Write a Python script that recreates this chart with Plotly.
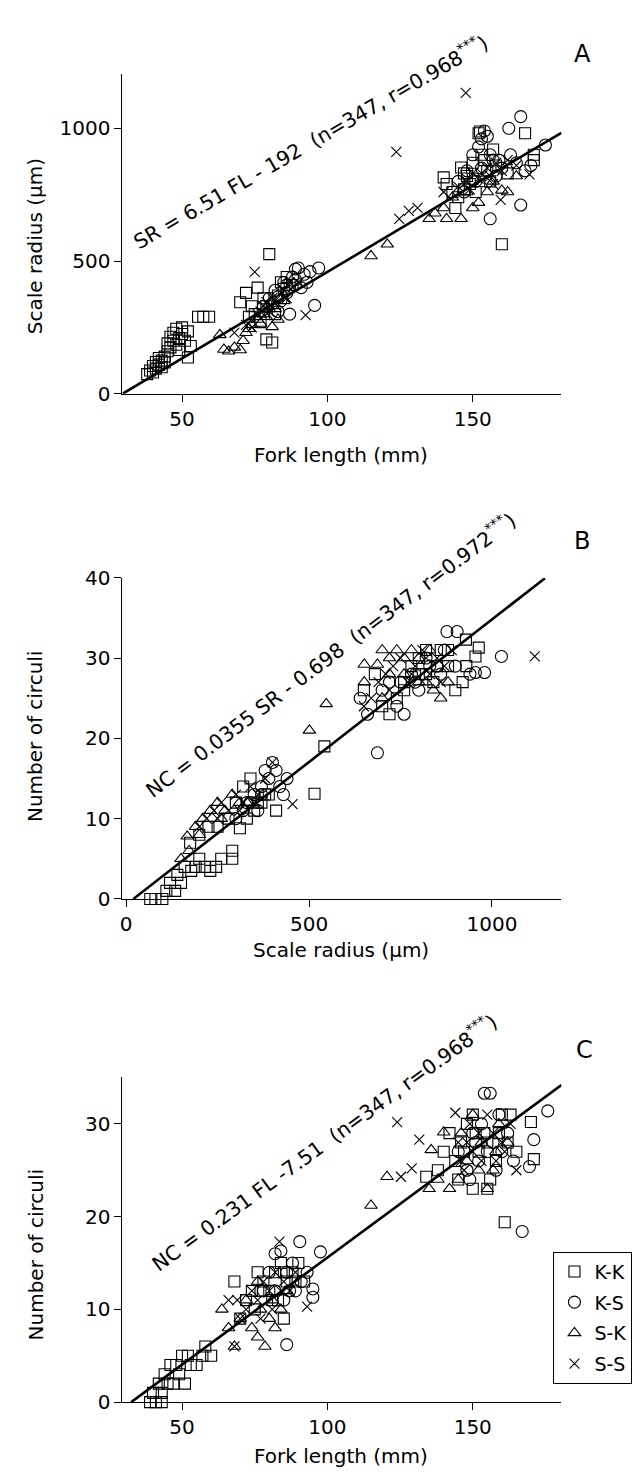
import plotly.graph_objects as go

# ---------------- data ----------------
groups = ["K-K", "K-S", "S-K", "S-S"]

# Panel A: fork length (mm) vs scale radius (um)
a_kk = [(38,74),(39,88),(40,105),(40,80),(41,120),(41,95),(42,110),(42,135),(43,100),(43,125),
        (44,140),(44,118),(45,160),(45,190),(46,175),(46,215),(47,200),(47,230),(48,185),(48,245),
        (49,210),(49,165),(50,225),(50,250),(51,200),(52,235),(52,137),(53,180),(55.5,290),(57.3,290),(59.3,290),
        (70,345),(72,380),(74,330),(76,400),(78,360),(80,526),(81,193),(79,205),(82,300),(84,420),(86,440),
        (88,410),(75,300),(77,270),(73,290),(79,330),(83,370),(85,395),(87,410),
        (140,815),(141,790),(143,760),(145,740),(146,852),(148,820),(149,790),(150,870),(151,760),(152,981),
        (152.5,988),(153,900),(155,840),(156,800),(158,860),(160,563),(162,830),(168,981),(171,900),(171,880),
        (151.4,1207),(147,770),(144,700),(147,830),(150,810),(154,880),(157,920)]
a_ks = [(78,330),(80,360),(82,390),(84,350),(85,420),(86,380),(88,440),(89,470),(90,474),(91,400),
        (92,450),(93,420),(95.6,333),(97,474),(94,460),(87,300),(83,310),(81,340),(83,365),(86,410),(89,430),
        (148,840),(150,900),(152,930),(153,960),(154,990),(155,970),(156,659),(157,880),(158,820),(160,850),
        (162.4,1000),(163,900),(165,870),(166.5,1044),(166.5,711),(168,840),(170,860),(175,937),(145,800),(147,760),
        (151,800),(153,850),(156,900),(159,880)]
a_sk = [(63,222),(64.4,167),(66,160),(68,175),(70,165),(71,200),(72,230),(74,260),(76,280),(78,300),
        (81,252),(80,320),(83,280),(85,350),(73,245),(77,265),(79,290),(82,320),
        (115,519),(120.6,563),(135,659),(137,680),(141,659),(146,659),(150,700),(152,720),(155,760),(160,766),
        (162,760),(165,820),(140,700),(143,740),(148,760),(153,790),(157,800)]
a_ss = [(68,230),(72,260),(75,459),(76,300),(78,330),(80,310),(82,350),(84,380),(86,360),(88,400),
        (92.5,296),(90,420),(74,250),(77,310),(79,345),(81,360),(85,390),(87,420),
        (123.7,911),(124.7,659),(128,689),(131,700),(147.6,1133),(140,760),(145,780),(148,800),(150,830),
        (152,810),(155,850),(158,870),(159.6,730),(162,880),(165,860),(169.5,826),(160,840),(157,790),
        (149,770),(153,830),(156,820)]

# Panel B: scale radius (um) vs number of circuli
b_kk = [(66,0),(80,0),(99,0),(110,1),(120,2),(134,1),(140,3),(150,2),(160,4),(178,3.5),(190,4),(200,5),
        (215,4),(230,3.5),(246,4),(260,5),(175,7),(200,8),(225,9),(290,5),(290,6),(311,8.8),(330,10),
        (350,11),(370,12),(390,13),(410,11),(300,12),(320,14),(340,15),(515,13.1),(542,19),
        (250,9),(280,10),(360,12),(380,13),
        (700,24),(720,23),(740,25),(760,27),(780,29),(800,30),(820,28),(840,27),(860,31),(880,29),(900,26),
        (920,27),(929,32.3),(955,30.2),(964,31.3),(930,29),(1192,30.2),(650,26),(680,28),
        (760,26),(800,28),(850,29),(880,31),(820,31)]
b_ks = [(330,12),(350,13),(370,14),(380,16),(390,15),(400,17),(410,16),(420,14),(430,13),(440,15),
        (360,11),(320,11),(300,10),(340,12),(370,13),
        (640,25),(660,23),(687,18.2),(700,26),(720,27),(740,24),(760,23),(780,28),(800,26),(820,30),
        (850,29),(870,31),(877,33.3),(905,33.3),(955,28.2),(980,28.2),(1026,30.2),(900,29),(940,28),
        (750,27),(790,27),(830,29),(860,28)]
b_sk = [(150,5),(167,7.8),(172,6),(190,9),(210,10),(230,11),(250,12),(270,11),(290,13),(310,12),(200,8),
        (260,10),(330,12),
        (501,21),(547,24.3),
        (651,29.2),(687,29.2),(651,27),(700,31),(720,30),(740,31),(760,28),(780,31),(800,30),(820,27),
        (840,26),(860,25),(880,27),(830,31),(700,25),(720,28),(760,30),(800,27)]
b_ss = [(200,9),(220,10),(240,11),(260,12),(280,11),(300,13),(320,12),(340,14),(360,13),(380,15),
        (400,17),(455,11.8),(250,10),(310,11),(350,12),
        (690,27),(710,28),(730,29),(750,30),(770,27),(790,29),(810,31),(830,28),(850,30),(870,29),
        (890,31),(1117,30.2),(650,24),(670,25),(720,26),(780,28),(820,30),(860,27)]

# Panel C: fork length (mm) vs number of circuli
c_kk = [(39,0),(41,0),(43,0),(40,1),(42,2),(43,1),(44,3),(45,2),(46,4),(47,2),(48,4),(49,3),(50,5),
        (51,2),(52,5),(53,4),(55,4),(57,5),(58,6),(60,5),
        (68,13),(70,9),(72,11),(74,12),(76,14),(78,13),(80,12),(82,14),(84,15),(86,13),(88,14),(90,15),
        (92,13),(85,9),(83,11),(75,10),(77,12),(81,11),(85,14),(89,13),
        (134,24.3),(138,25),(140,27),(142,29),(144,26),(146,28),(148,30),(150,31),(152,27),(154,29),
        (156,24),(158,26),(160,31),(162,28),(165,27),(170,30.2),(171,26.2),(161,19.4),(155,23),(150,23),(145,24),
        (147,27),(151,29),(155,28),(159,29),(163,31)]
c_ks = [(78,12),(80,14),(82,16),(84,16.3),(86,6.2),(88,15),(90.5,17.3),(91,13),(93,14),(95,11.3),
        (95,12.2),(97.6,16.2),(85,11),(87,12),(82,12),(86,14),(89,12),
        (145,27),(148,25),(150,29),(152,26),(154,33.3),(156,33.3),(157,28),(158,25),(160,27),(162,29),
        (164,26),(167,18.4),(169.5,25.4),(171,28.3),(175.8,31.4),(153,30),(149,24),(151,28),(155,27),(159,31)]
c_sk = [(63.7,10),(66,8),(68,6),(70,9),(72,11),(74,8),(76,7),(78.5,6),(80,9),(82,8),(84,10),(76,13),
        (77,10),(81,11),(86,12),
        (115,21.2),(120.5,24.3),(135,23),(135.7,27.2),(140,29.1),(142,23),(145,24),(148,26),(150,31),
        (153,28),(155,23),(157,25),(159,30),(162,28),(138,24),(146,29),(152,25),(158,27)]
c_ss = [(66,11),(68,6),(69,11),(70,9),(72,10),(74,12),(76,11),(78,13),(80,12),(82,14),(83.5,17.3),
        (85,13),(87,12),(89,14),(93,10.3),(77,9),(81,10),(84,12),
        (124,30.2),(125.3,24.3),(129,25.2),(131.6,28.3),(144,31.2),(146,26),(148,28),(150,27),(152,29),
        (155,31),(158,26),(160,28),(163,30),(165,25),(147,25),(145,28),(149,30),(153,26),(157,29),(161,27)]

# regression equations (slope, intercept) and x extent of the drawn line
reg_a = dict(slope=6.51, intercept=-192, x=[29.5, 180.5])
reg_b = dict(slope=0.0355, intercept=-0.698, x=[19.7, 1145])
reg_c = dict(slope=0.231, intercept=-7.51, x=[32.5, 180.5])

eq_a = "SR = 6.51 FL - 192\u00a0\u00a0(n=347, r=0.968<sup>***</sup>)"
eq_b = "NC = 0.0355 SR - 0.698\u00a0\u00a0(n=347, r=0.972<sup>***</sup>)"
eq_c = "NC = 0.231 FL -7.51\u00a0\u00a0(n=347, r=0.968<sup>***</sup>)"

# ---------------- figure ----------------
W, H = 643, 1474
FONT = "DejaVu Sans"
symbols = {"K-K": "square-open", "K-S": "circle-open", "S-K": "triangle-up-open", "S-S": "x-thin-open"}
sizes = {"K-K": 11, "K-S": 12, "S-K": 11, "S-S": 10}

panels = [
    ("x", "y", {"K-K": a_kk, "K-S": a_ks, "S-K": a_sk, "S-S": a_ss}, reg_a),
    ("x2", "y2", {"K-K": b_kk, "K-S": b_ks, "S-K": b_sk, "S-S": b_ss}, reg_b),
    ("x3", "y3", {"K-K": c_kk, "K-S": c_ks, "S-K": c_sk, "S-S": c_ss}, reg_c),
]

fig = go.Figure()
for i, (xa, ya, data, reg) in enumerate(panels):
    for g in groups:
        pts = data[g]
        fig.add_trace(go.Scatter(
            x=[p[0] for p in pts], y=[p[1] for p in pts], mode="markers",
            xaxis=xa, yaxis=ya, name=g, legendgroup=g, showlegend=(i == 2),
            cliponaxis=False,
            marker=dict(symbol=symbols[g], size=sizes[g], color="black",
                        line=dict(color="black", width=1.1)),
        ))
    xs = reg["x"]
    fig.add_trace(go.Scatter(
        x=xs, y=[reg["slope"] * v + reg["intercept"] for v in xs], mode="lines",
        xaxis=xa, yaxis=ya, showlegend=False, hoverinfo="skip",
        line=dict(color="black", width=2.6),
    ))

def px(v):
    return v / W

def py(v):
    return 1 - v / H

axis_common = dict(showline=True, linecolor="black", linewidth=1.2, ticks="outside", ticklen=7,
                   tickwidth=1.2, tickcolor="black", showgrid=False, zeroline=False,
                   tickfont=dict(family=FONT, size=20, color="black"))
xdom = [px(112), px(553)]

fig.update_layout(
    width=W, height=H, autosize=False,
    margin=dict(l=0, r=0, t=0, b=0),
    paper_bgcolor="white", plot_bgcolor="white",
    font=dict(family=FONT, color="black"),
    xaxis=dict(domain=xdom, anchor="y", range=[29.5, 180.5], tickvals=[50, 100, 150], **axis_common),
    yaxis=dict(domain=[py(380), py(55)], anchor="x", range=[0, 1204], tickvals=[0, 500, 1000], **axis_common),
    xaxis2=dict(domain=xdom, anchor="y2", range=[-10, 1190], tickvals=[0, 500, 1000], **axis_common),
    yaxis2=dict(domain=[py(893.5), py(567)], anchor="x2", range=[0, 40], tickvals=[0, 10, 20, 30, 40], **axis_common),
    xaxis3=dict(domain=xdom, anchor="y3", range=[29.5, 180.5], tickvals=[50, 100, 150], **axis_common),
    yaxis3=dict(domain=[py(1405), py(1075)], anchor="x3", range=[0, 35], tickvals=[0, 10, 20, 30], **axis_common),
    legend=dict(x=px(545), y=py(1252), xanchor="left", yanchor="top", bgcolor="white",
                bordercolor="black", borderwidth=1, tracegroupgap=3, itemwidth=30,
                font=dict(family=FONT, size=19, color="black")),
    showlegend=True,
)

def ann(text, x, y, size, angle=0):
    fig.add_annotation(text=text, x=px(x), y=py(y), xref="paper", yref="paper", showarrow=False,
                       xanchor="center", yanchor="middle", textangle=angle,
                       font=dict(family=FONT, size=size, color="black"))

# axis titles
ann("Fork length (mm)", 332, 442, 20)
ann("Scale radius (\u03bcm)", 332, 945, 20)
ann("Fork length (mm)", 332, 1460, 20)
ann("Scale radius (\u03bcm)", 24, 230, 20, -90)
ann("Number of circuli", 24, 728, 20, -90)
ann("Number of circuli", 25, 1255, 20, -90)
# regression equations
ann(eq_a, 301, 124, 20.3, -30)
ann(eq_b, 321, 645, 20.3, -37)
ann(eq_c, 314, 1141, 20.3, -36)
# panel letters
ann("A", 574, 35, 24)
ann("B", 574, 530, 24)
ann("C", 576, 1047, 24)

fig.write_html("out.html")
